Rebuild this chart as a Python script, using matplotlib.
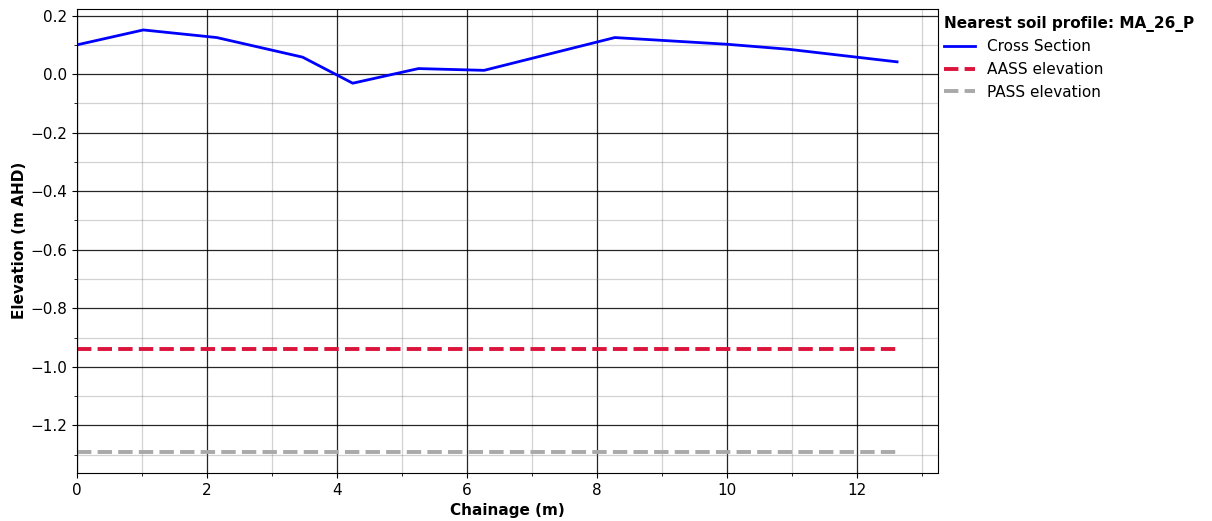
import numpy as np
import matplotlib
matplotlib.use("Agg")
import matplotlib.pyplot as plt
from matplotlib.ticker import MultipleLocator

# perfil transversal (chainage en m, elevacion en m AHD)
chainage = [0.0, 1.02, 2.15, 3.47, 4.24, 5.25, 6.26, 8.27, 10.0, 10.94, 12.61]
elevacion = [0.100, 0.151, 0.125, 0.058, -0.031, 0.019, 0.013, 0.125, 0.102, 0.085, 0.042]

# niveles de suelos acidos
aass = -0.94
pass_nivel = -1.29
perfil = "MA_26_P"

fs = 11

fig = plt.figure(figsize=(12.12, 5.21), dpi=100)
ax = fig.add_axes([0.0635, 0.0925, 0.7105, 0.8905])

x_ext = [chainage[0], chainage[-1]]
ax.plot(chainage, elevacion, color="blue", lw=2, label="Cross Section")
ax.plot(x_ext, [aass, aass], color="crimson", lw=2.8, linestyle="--", label="AASS elevation")
ax.plot(x_ext, [pass_nivel, pass_nivel], color="darkgray", lw=2.8, linestyle="--", label="PASS elevation")

ax.set_xlim(left=0)
ax.xaxis.set_major_locator(MultipleLocator(2))
ax.xaxis.set_minor_locator(MultipleLocator(1))
ax.yaxis.set_major_locator(MultipleLocator(0.2))
ax.yaxis.set_minor_locator(MultipleLocator(0.1))
ax.grid(which="major", color="black", lw=0.9, alpha=0.85)
ax.grid(which="minor", color="gray", lw=0.9, alpha=0.35)
ax.tick_params(labelsize=fs)

ax.set_xlabel("Chainage (m)", fontweight="bold", fontsize=fs)
ax.set_ylabel("Elevation (m AHD)", fontweight="bold", fontsize=fs, labelpad=2)

leg = ax.legend(loc="upper left", bbox_to_anchor=(0.991, 1.015), frameon=False,
                title="Nearest soil profile: " + perfil, fontsize=fs,
                title_fontsize=fs, labelspacing=0.5)
leg.get_title().set_fontweight("bold")
leg._legend_box.align = "left"

fig.savefig("out.png", dpi=100)
